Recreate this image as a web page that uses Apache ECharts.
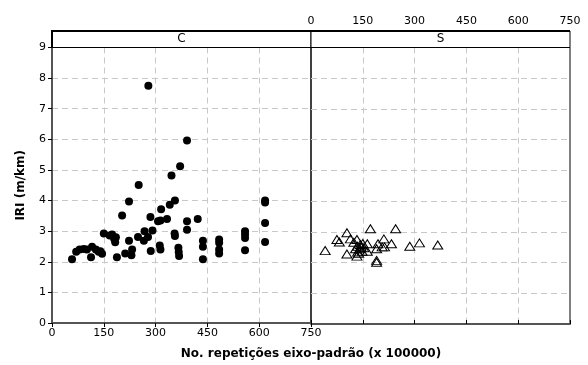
<!DOCTYPE html>
<html>
<head>
<meta charset="utf-8">
<script src="https://cdn.jsdelivr.net/npm/echarts@6/dist/echarts.min.js"></script>
<style>html,body{margin:0;padding:0;background:#fff}#c{width:588px;height:365px}</style>
</head>
<body>
<div id="c"></div>
<script>
// Panel labels
const panels = ['C', 'S'];
// x tick labels
const xTicks = [0, 150, 300, 450, 600, 750];
// Panel C (filled circles)
const cX = [58, 70, 80, 92, 101, 116, 113, 127, 135, 145, 140, 150, 167, 174, 180, 185, 183, 188, 203, 212,
  223, 223, 232, 230, 251, 249, 266, 268, 278, 285, 286, 291, 307, 314, 316, 312, 314, 333, 341, 346,
  356, 355, 356, 366, 367, 368, 371, 391, 391, 422, 437, 437, 437, 484, 484, 484, 484, 559, 559, 559,
  559, 617, 617, 617, 617, 279, 391];
const cY = [2.08, 2.33, 2.40, 2.42, 2.40, 2.49, 2.15, 2.40, 2.33, 2.26, 2.34, 2.92, 2.86, 2.89, 2.75, 2.80, 2.64, 2.15, 3.51, 2.27,
  3.97, 2.69, 2.40, 2.21, 4.51, 2.81, 2.69, 3.00, 2.81, 3.46, 2.35, 3.02, 3.32, 3.35, 3.72, 2.53, 2.40, 3.40, 3.86, 4.82,
  4.00, 2.92, 2.84, 2.46, 2.32, 2.19, 5.12, 3.32, 3.05, 3.40, 2.69, 2.49, 2.08, 2.73, 2.62, 2.40, 2.27, 3.00, 2.89, 2.78,
  2.38, 4.00, 3.94, 3.27, 2.65, 7.75, 5.96];
// Panel S (open triangles)
const sX = [41, 75, 82, 104, 104, 114, 124, 133, 135, 133, 135, 141, 143, 148, 163, 163, 172, 190, 190, 190,
  194, 206, 211, 213, 233, 245, 286, 314, 367, 129, 153, 138, 145, 150];
const sY = [2.39, 2.75, 2.67, 2.97, 2.28, 2.77, 2.66, 2.75, 2.53, 2.21, 2.34, 2.45, 2.59, 2.37, 2.61, 2.37, 3.10, 2.07, 2.01, 2.45,
  2.61, 2.51, 2.77, 2.51, 2.61, 3.10, 2.53, 2.64, 2.57, 2.45, 2.48, 2.30, 2.50, 2.62];

const zip = (a, b) => a.map((v, i) => [v, b[i]]);
const FONT = 'DejaVu Sans';
const gridLine = { show: true, showMinLine: false, showMaxLine: false, lineStyle: { color: '#c8c8c8', type: [6, 4], width: 1 } };
const tickStyle = { show: true, length: 4, inside: false, lineStyle: { color: '#000', width: 1 } };
const lblStyle = { color: '#000', fontFamily: FONT, fontSize: 11 };
const darkAxis = { show: true, lineStyle: { color: '#555', width: 2 } };

const chart = echarts.init(document.getElementById('c'), null, { renderer: 'canvas' });
const gT = 47.5, gH = 276.5, gW = 259, sTop = 31;
chart.setOption({
  animation: false,
  backgroundColor: '#fff',
  grid: [
    { left: 52, top: gT, width: gW, height: gH, show: true, borderColor: '#000', borderWidth: 1, backgroundColor: 'transparent' },
    { left: 52 + gW, top: gT, width: gW, height: gH, show: true, borderColor: '#000', borderWidth: 1, backgroundColor: 'transparent' }
  ],
  xAxis: [
    { gridIndex: 0, type: 'value', min: 0, max: 750, interval: 150, position: 'bottom',
      axisLine: darkAxis, axisTick: tickStyle, splitLine: gridLine,
      axisLabel: Object.assign({ margin: 5, formatter: v => xTicks.includes(v) ? String(v) : '' }, lblStyle),
      name: 'No. repetições eixo-padrão (x 100000)', nameLocation: 'middle', nameGap: 25,
      nameTextStyle: { color: '#000', fontFamily: FONT, fontSize: 12, fontWeight: 'bold', padding: [0, 0, 0, 259] } },
    { gridIndex: 1, type: 'value', min: 0, max: 750, interval: 150, position: 'top', offset: gT - sTop,
      axisLine: { show: false }, axisTick: tickStyle, splitLine: gridLine,
      axisLabel: Object.assign({ margin: 4, formatter: v => xTicks.includes(v) ? String(v) : '' }, lblStyle) },
    { gridIndex: 1, type: 'value', min: 0, max: 750, interval: 150, position: 'bottom',
      axisLine: darkAxis, axisTick: { show: false }, axisLabel: { show: false }, splitLine: { show: false } }
  ],
  yAxis: [
    { gridIndex: 0, type: 'value', min: 0, max: 9, interval: 1,
      axisLine: darkAxis, axisTick: tickStyle, splitLine: gridLine,
      axisLabel: Object.assign({ margin: 6 }, lblStyle),
      name: 'IRI (m/km)', nameLocation: 'middle', nameGap: 25, nameRotate: 90,
      nameTextStyle: { color: '#000', fontFamily: FONT, fontSize: 12, fontWeight: 'bold' } },
    { gridIndex: 1, type: 'value', min: 0, max: 9, interval: 1,
      axisLine: { show: false }, axisTick: { show: false }, axisLabel: { show: false }, splitLine: gridLine }
  ],
  graphic: [
    { type: 'rect', shape: { x: 52, y: sTop, width: gW, height: gT - sTop }, style: { fill: '#fff', stroke: '#000', lineWidth: 1 }, z: 10 },
    { type: 'rect', shape: { x: 52 + gW, y: sTop, width: gW, height: gT - sTop }, style: { fill: '#fff', stroke: '#000', lineWidth: 1 }, z: 10 },
    { type: 'line', shape: { x1: 51, y1: sTop, x2: 52 + 2 * gW, y2: sTop }, style: { stroke: '#000', lineWidth: 2 }, z: 12 },
    { type: 'line', shape: { x1: 52, y1: sTop, x2: 52, y2: gT }, style: { stroke: '#000', lineWidth: 2 }, z: 12 },
    { type: 'text', x: 52 + gW / 2, y: (sTop + gT) / 2, style: { text: panels[0], fill: '#000', font: '12px "' + FONT + '"', align: 'center', verticalAlign: 'middle' }, z: 11 },
    { type: 'text', x: 52 + gW * 1.5, y: (sTop + gT) / 2, style: { text: panels[1], fill: '#000', font: '12px "' + FONT + '"', align: 'center', verticalAlign: 'middle' }, z: 11 }
  ],
  series: [
    { type: 'scatter', xAxisIndex: 0, yAxisIndex: 0, data: zip(cX, cY), symbol: 'circle', symbolSize: 8,
      itemStyle: { color: '#000', opacity: 1 } },
    { type: 'scatter', xAxisIndex: 1, yAxisIndex: 1, data: zip(sX, sY), symbol: 'triangle', symbolSize: [10, 8],
      itemStyle: { color: 'rgba(0,0,0,0)', borderColor: '#000', borderWidth: 1, opacity: 1 } }
  ]
});
</script>
</body>
</html>
